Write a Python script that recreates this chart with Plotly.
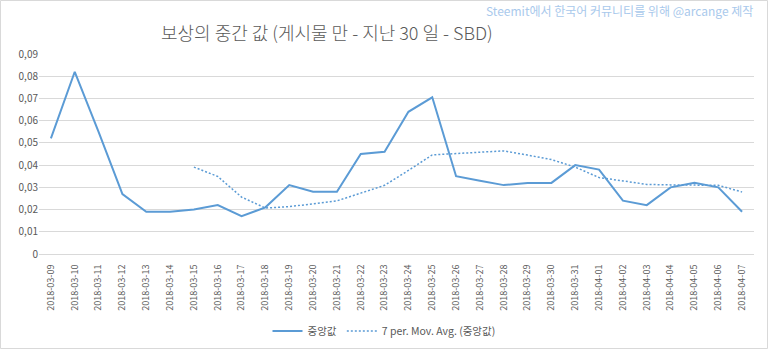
import plotly.graph_objects as go

dates = ["2018-03-09", "2018-03-10", "2018-03-11", "2018-03-12", "2018-03-13", "2018-03-14",
         "2018-03-15", "2018-03-16", "2018-03-17", "2018-03-18", "2018-03-19", "2018-03-20",
         "2018-03-21", "2018-03-22", "2018-03-23", "2018-03-24", "2018-03-25", "2018-03-26",
         "2018-03-27", "2018-03-28", "2018-03-29", "2018-03-30", "2018-03-31", "2018-04-01",
         "2018-04-02", "2018-04-03", "2018-04-04", "2018-04-05", "2018-04-06", "2018-04-07"]

median_vals = [0.052, 0.082, 0.055, 0.027, 0.019, 0.019, 0.020, 0.022, 0.017, 0.021,
               0.031, 0.028, 0.028, 0.045, 0.046, 0.064, 0.0705, 0.035, 0.033, 0.031,
               0.032, 0.032, 0.040, 0.038, 0.024, 0.022, 0.030, 0.032, 0.030, 0.019]

mov_avg = [None, None, None, None, None, None,
           0.0391, 0.0349, 0.0256, 0.0207, 0.0213, 0.0226, 0.0239, 0.0274, 0.0309, 0.0376,
           0.0446, 0.0452, 0.0459, 0.0464, 0.0445, 0.0425, 0.0391, 0.0344, 0.0329, 0.0313,
           0.0311, 0.0311, 0.0309, 0.0279]

y_tick_vals = [0, 0.01, 0.02, 0.03, 0.04, 0.05, 0.06, 0.07, 0.08, 0.09]
y_tick_text = ["0", "0,01", "0,02", "0,03", "0,04", "0,05", "0,06", "0,07", "0,08", "0,09"]

title_text = "보상의 중간 값 (게시물 만 - 지난 30 일 - SBD)"
watermark = "Steemit에서 한국어 커뮤니티를 위해 @arcange 제작"

FONT = "Noto Sans CJK KR, Noto Sans, sans-serif"
BLUE = "#5b9bd5"
GRAY = "#595959"

W, H = 768, 349
ML, MR, MT, MB = 39, 14, 54, 95

fig = go.Figure()
fig.add_trace(go.Scatter(x=dates, y=median_vals, mode="lines", name="중앙값",
                         line=dict(color=BLUE, width=2)))
fig.add_trace(go.Scatter(x=dates, y=mov_avg, mode="lines", name="7 per. Mov. Avg. (중앙값)",
                         line=dict(color=BLUE, width=1.5, dash="2px,2px")))

pw = W - ML - MR
ph = H - MT - MB
fig.add_shape(type="rect", xref="paper", yref="paper",
              x0=(-ML + 0.5) / pw, x1=(W - ML - 0.5) / pw,
              y0=(-MB + 0.5) / ph, y1=(H - MB - 0.5) / ph,
              line=dict(color="#d9d9d9", width=1), fillcolor="rgba(0,0,0,0)", layer="below")

fig.add_annotation(text=title_text, xref="paper", yref="paper",
                   x=(327 - ML) / pw, y=(H - MB - 32) / ph, xanchor="center", yanchor="middle",
                   showarrow=False, font=dict(family=FONT, size=18, color=GRAY, weight=300))
fig.add_annotation(text=watermark, xref="paper", yref="paper",
                   x=(755 - ML) / pw, y=(H - MB - 10) / ph, xanchor="right", yanchor="middle",
                   showarrow=False, font=dict(family=FONT, size=12, color="#a9c9ec"))

fig.update_layout(
    width=W, height=H,
    margin=dict(l=ML, r=MR, t=MT, b=MB, autoexpand=False),
    paper_bgcolor="white", plot_bgcolor="white",
    font=dict(family=FONT, size=10, color=GRAY),
    showlegend=True,
    legend=dict(orientation="h", xref="container", yref="container",
                x=384 / W, xanchor="center", y=1 - 331 / H, yanchor="middle",
                font=dict(family=FONT, size=10.5, color=GRAY), itemwidth=30),
    xaxis=dict(type="category", range=[-0.5, len(dates) - 0.5], tickangle=-90,
               automargin=False,
               showgrid=False, showline=True, linecolor="#d9d9d9", linewidth=1,
               ticks="", ticklabelstandoff=6, tickfont=dict(size=9, color=GRAY), fixedrange=True),
    yaxis=dict(range=[0, 0.09], tickvals=y_tick_vals, ticktext=y_tick_text, automargin=False,
               showgrid=True, gridcolor="#d9d9d9", gridwidth=1, zeroline=False,
               showline=False, ticks="", tickfont=dict(size=10, color=GRAY), fixedrange=True),
)

fig.write_html("out.html")
